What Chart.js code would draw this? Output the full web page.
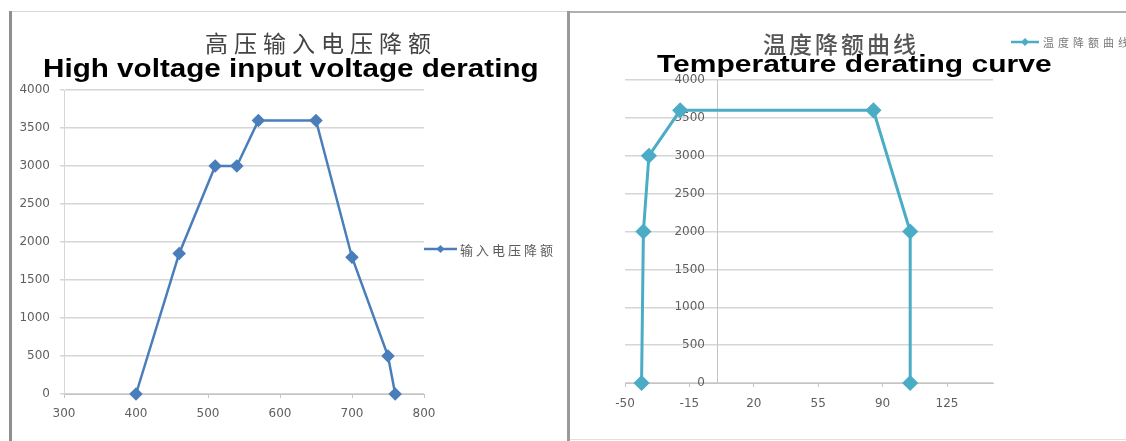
<!DOCTYPE html>
<html>
<head>
<meta charset="utf-8">
<script src="https://cdn.jsdelivr.net/npm/chart.js@4/dist/chart.umd.min.js"></script>
<style>
  html, body { margin: 0; padding: 0; background: #fff; }
  #wrap { position: relative; width: 1126px; height: 441px; overflow: hidden; background: #fff; }
  canvas { position: absolute; top: 0; }
  .line { position: absolute; }
  .t { position: absolute; white-space: nowrap; line-height: 1; }
  .cn { font-family: "Noto Sans CJK SC", sans-serif; }
  .en { font-family: "Liberation Sans", Arial, sans-serif; font-weight: bold; color: #000; transform-origin: left top; }
</style>
</head>
<body>
<div id="wrap">
  <canvas id="volt" width="569" height="441" style="left:0;width:569px;height:441px"></canvas>
  <canvas id="temp" width="557" height="441" style="left:569px;width:557px;height:441px"></canvas>

  <!-- panel frames -->
  <div class="line" style="left:9px;top:11px;width:3px;height:430px;background:#8f8f8f"></div>
  <div class="line" style="left:12px;top:11px;width:555px;height:1px;background:#dadada"></div>
  <div class="line" style="left:567px;top:11px;width:3px;height:430px;background:#9a9a9a"></div>
  <div class="line" style="left:570px;top:11px;width:556px;height:2px;background:#b0b0b0"></div>
  <div class="line" style="left:570px;top:439px;width:556px;height:1px;background:#e0e0e0"></div>

  <!-- titles -->
  <div class="t cn" style="left:205px;top:31px;font-size:23px;letter-spacing:6px;color:#444">高压输入电压降额</div>
  <div class="t en" style="left:43px;top:55px;font-size:26px;transform:scaleX(1.14)">High voltage input voltage derating</div>
  <div class="t cn" style="left:763px;top:32px;font-size:23px;letter-spacing:3px;color:#555;font-weight:500">温度降额曲线</div>
  <div class="t en" style="left:657px;top:52px;font-size:24px;transform:scaleX(1.25)">Temperature derating curve</div>
</div>

<script>
// input voltage derating (V -> W)
const voltX = [400, 460, 510, 540, 570, 650, 700, 750, 760];
const voltY = [0, 1850, 3000, 3000, 3600, 3600, 1800, 500, 0];
const voltTicks = [300, 400, 500, 600, 700, 800];

// temperature derating (°C -> W)
const tempX = [-41, -40, -37, -20, 85, 105, 105];
const tempY = [0, 2000, 3000, 3600, 3600, 2000, 0];
const tempTicks = [-50, -15, 20, 55, 90, 125];

const powerTicks = [0, 500, 1000, 1500, 2000, 2500, 3000, 3500, 4000];

const tickFont = { family: 'DejaVu Sans', size: 12 };
const tickColor = '#5f5f5f';
const plain = v => String(v);

function toPoints(xs, ys) {
  return xs.map((x, i) => ({ x: x, y: ys[i] }));
}

// legend drawn Excel-style: short line with a diamond marker, then the label
const excelLegend = {
  id: 'excelLegend',
  afterDraw(chart, args, o) {
    const ctx = chart.ctx;
    const ds = chart.data.datasets[0];
    const cx = o.x + o.len / 2;
    ctx.save();
    ctx.strokeStyle = ds.borderColor;
    ctx.lineWidth = o.lineWidth;
    ctx.beginPath();
    ctx.moveTo(o.x, o.y);
    ctx.lineTo(o.x + o.len, o.y);
    ctx.stroke();
    ctx.fillStyle = ds.borderColor;
    ctx.beginPath();
    ctx.moveTo(cx, o.y - o.r);
    ctx.lineTo(cx + o.r, o.y);
    ctx.lineTo(cx, o.y + o.r);
    ctx.lineTo(cx - o.r, o.y);
    ctx.closePath();
    ctx.fill();
    ctx.font = o.size + 'px "Noto Sans CJK SC"';
    if ('letterSpacing' in ctx) ctx.letterSpacing = o.spacing + 'px';
    ctx.fillStyle = o.color;
    ctx.textBaseline = 'middle';
    ctx.fillText(ds.label, o.x + o.len + o.gap, o.y + 1);
    ctx.restore();
  }
};

new Chart(document.getElementById('volt'), {
  type: 'line',
  data: {
    datasets: [{
      label: '输入电压降额',
      data: toPoints(voltX, voltY),
      borderColor: '#4a7ebb',
      backgroundColor: '#4a7ebb',
      borderWidth: 2.5,
      pointStyle: 'rectRot',
      pointRadius: 5,
      tension: 0,
      clip: false
    }]
  },
  options: {
    responsive: false,
    animation: false,
    layout: { padding: { left: 0, right: 145, top: 90, bottom: 0 } },
    plugins: {
      legend: { display: false },
      tooltip: { enabled: false },
      excelLegend: { x: 424, y: 249, len: 33, r: 4, lineWidth: 2.5, gap: 3, size: 13, spacing: 3, color: '#5a5a5a' }
    },
    scales: {
      x: {
        type: 'linear',
        min: 300,
        max: 800,
        afterBuildTicks: s => { s.ticks = voltTicks.map(v => ({ value: v })); },
        afterFit: s => { s.height = 47; },
        grid: { drawOnChartArea: false, tickLength: 4, color: '#c4c4c4' },
        border: { color: '#c4c4c4' },
        ticks: { padding: 9, color: tickColor, font: tickFont, maxRotation: 0, callback: plain }
      },
      y: {
        min: 0,
        max: 4000,
        afterBuildTicks: s => { s.ticks = powerTicks.map(v => ({ value: v })); },
        afterFit: s => { s.width = 64; },
        grid: { tickLength: 4, color: '#d6d6d6', lineWidth: 1.5 },
        border: { color: '#d6d6d6' },
        ticks: { padding: 10, color: tickColor, font: tickFont, callback: plain }
      }
    }
  },
  plugins: [excelLegend]
});

new Chart(document.getElementById('temp'), {
  type: 'line',
  data: {
    datasets: [{
      label: '温度降额曲线',
      data: toPoints(tempX, tempY),
      borderColor: '#4bacc6',
      backgroundColor: '#4bacc6',
      borderWidth: 3,
      pointStyle: 'rectRot',
      pointRadius: 6,
      tension: 0,
      clip: false
    }]
  },
  options: {
    responsive: false,
    animation: false,
    layout: { padding: { left: 56, right: 133, top: 80, bottom: 0 } },
    plugins: {
      legend: { display: false },
      tooltip: { enabled: false },
      excelLegend: { x: 442, y: 42, len: 28, r: 4, lineWidth: 2.5, gap: 4, size: 11, spacing: 4, color: '#7a7a7a' }
    },
    scales: {
      x: {
        type: 'linear',
        min: -50,
        max: 150,
        afterBuildTicks: s => { s.ticks = tempTicks.map(v => ({ value: v })); },
        afterFit: s => { s.height = 58; },
        grid: { drawOnChartArea: false, tickLength: 4, color: '#c4c4c4' },
        border: { color: '#c4c4c4' },
        ticks: { padding: 10, color: tickColor, font: tickFont, maxRotation: 0, callback: plain }
      },
      y: {
        position: { x: 0 },
        min: 0,
        max: 4000,
        afterBuildTicks: s => { s.ticks = powerTicks.map(v => ({ value: v })); },
        grid: { drawTicks: false, color: '#d6d6d6', lineWidth: 1.5 },
        border: { color: '#c4c4c4' },
        // axis sits at x = 0; two en spaces keep the labels off the axis line
        ticks: { color: tickColor, font: tickFont, callback: v => v + '\u2002\u2002' }
      }
    }
  },
  plugins: [excelLegend]
});
</script>
</body>
</html>
